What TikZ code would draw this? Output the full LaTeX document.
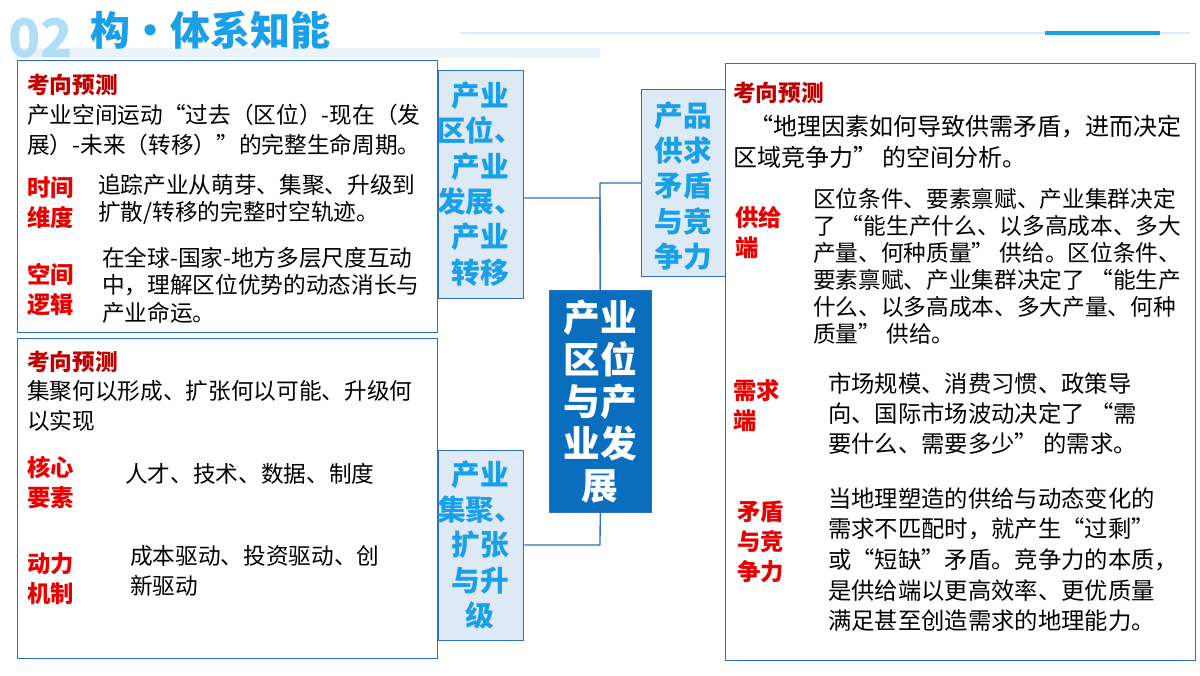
\documentclass[tikz,border=0pt]{standalone}
\usepackage{fontspec}
\setmainfont{Noto Sans CJK SC}
\begin{document}
\begin{tikzpicture}[x=0.75pt,y=-0.75pt,
  bx/.style={draw=bord,line width=1pt},
  lab/.style={bx,fill=labfill},
  labt/.style={align=center,text=labtext,font=\fontsize{21.5}{26.5}\selectfont\bfseries,inner sep=0},
  body/.style={align=left,anchor=north west,inner sep=0,font=\fontsize{17}{22.5}\selectfont},
  red/.style={align=left,anchor=north west,inner sep=0,text=redc,font=\fontsize{17.5}{22.5}\selectfont\bfseries},
  ktitle/.style={anchor=west,inner sep=0,text=darkred,font=\fontsize{17}{20}\selectfont\bfseries},
  con/.style={draw=bord,line width=1pt}]
\definecolor{bord}{HTML}{2E6FC0}
\definecolor{labfill}{HTML}{DDEAF6}
\definecolor{labtext}{HTML}{1AA0E8}
\definecolor{redc}{HTML}{E80000}
\definecolor{darkred}{HTML}{C00000}
\definecolor{cen}{HTML}{0A6EBF}
\useasboundingbox (0,0) rectangle (1200,675);
\fill[white] (0,0) rectangle (1200,675);
% header
\fill[labfill!60] (15,48) rectangle (600,58);
\node[anchor=west,inner sep=0,text=labtext!35,font=\fontsize{40}{44}\selectfont\bfseries] (n02) at (8,38) {02};
\node[anchor=west,inner sep=0,text=labtext,font=\fontsize{30}{32}\selectfont\bfseries] (ttl) at (90,30) {构·体系知能};
\draw[labfill,line width=1pt] (460,33) -- (1190,33);
\draw[labtext,line width=3pt] (1045,33) -- (1160,33);
% boxes
\node[bx,minimum width=420pt*0.75,minimum height=272pt*0.75,anchor=north west,inner sep=0] (lt) at (17,60) {};
\node[bx,minimum width=420pt*0.75,minimum height=320pt*0.75,anchor=north west,inner sep=0] (lb) at (17,338) {};
\node[bx,minimum width=470pt*0.75,minimum height=597pt*0.75,anchor=north west,inner sep=0] (rb) at (725,63) {};
\node[lab,minimum width=85pt*0.75,minimum height=228pt*0.75,anchor=north west,inner sep=0] (l1) at (438,70) {};
\node[lab,minimum width=85pt*0.75,minimum height=190pt*0.75,anchor=north west,inner sep=0] (l2) at (438,450) {};
\node[lab,minimum width=84pt*0.75,minimum height=187pt*0.75,anchor=north west,inner sep=0] (l3) at (641,89) {};
\node[draw=bord,fill=cen,minimum width=102pt*0.75,minimum height=222pt*0.75,anchor=north west,inner sep=0] (c) at (549,290) {};
% label texts
\node[labt] (l1t) at (480,184) {产业\\区位、\\产业\\发展、\\产业\\转移};
\node[labt] (l2t) at (480,545) {产业\\集聚、\\扩张\\与升\\级};
\node[labt] (l3t) at (683,186) {产品\\供求\\矛盾\\与竞\\争力};
\node[align=center,text=white,inner sep=0,font=\fontsize{27.5}{31.5}\selectfont\bfseries] (ct) at (600,402) {产业\\区位\\与产\\业发\\展};
% connectors
\coordinate (j1) at (600,198);
\coordinate (j3) at (600,183);
\coordinate (j2) at (600,545);
\draw[con] (l1.east |- j1) -- (j1) -- (c.north);
\draw[con] (l3.west |- j3) -- (j3) -- (c.north);
\draw[con] (c.south) -- (j2) -- (l2.east |- j2);
% left top
\node[ktitle] (k1) at (27,85) {考向预测};
\node[body] (t1) at (27,104) {产业空间运动“过去（区位）-现在（发\\展）-未来（转移）”的完整生命周期。};
\node[red] (r1) at (27,176) {时间\\维度};
\node[body,font=\fontsize{17}{20}\selectfont] (t2) at (98,174) {追踪产业从萌芽、集聚、升级到\\扩散/转移的完整时空轨迹。};
\node[red] (r2) at (27,263) {空间\\逻辑};
\node[body,font=\fontsize{17}{20.5}\selectfont] (t3) at (102,247) {在全球-国家-地方多层尺度互动\\中，理解区位优势的动态消长与\\产业命运。};
% left bottom
\node[ktitle] (k2) at (27,362) {考向预测};
\node[body] (t4) at (27,380) {集聚何以形成、扩张何以可能、升级何\\以实现};
\node[red] (r3) at (27,456) {核心\\要素};
\node[body] (t5) at (125,463) {人才、技术、数据、制度};
\node[red] (r4) at (27,552) {动力\\机制};
\node[body] (t6) at (130,545) {成本驱动、投资驱动、创\\新驱动};
% right
\node[ktitle] (k3) at (733,93) {考向预测};
\node[body,font=\fontsize{18}{23.5}\selectfont] (t7) at (733,115) {\hspace*{12pt}“地理因素如何导致供需矛盾，进而决定\\区域竞争力” 的空间分析。};
\node[red] (r5) at (735,206) {供给\\端};
\node[body,font=\fontsize{17}{20.2}\selectfont] (t8) at (813,188) {区位条件、要素禀赋、产业集群决定\\了 “能生产什么、以多高成本、多大\\产量、何种质量” 供给。区位条件、\\要素禀赋、产业集群决定了 “能生产\\什么、以多高成本、多大产量、何种\\质量” 供给。};
\node[red] (r6) at (733,379) {需求\\端};
\node[body,font=\fontsize{17.5}{22.5}\selectfont] (t9) at (828,372) {市场规模、消费习惯、政策导\\向、国际市场波动决定了 “需\\要什么、需要多少” 的需求。};
\node[red] (r7) at (737,501) {矛盾\\与竞\\争力};
\node[body,font=\fontsize{17.5}{23}\selectfont] (t10) at (828,487) {当地理塑造的供给与动态变化的\\需求不匹配时，就产生“过剩”\\或“短缺”矛盾。竞争力的本质，\\是供给端以更高效率、更优质量\\满足甚至创造需求的地理能力。};
\end{tikzpicture}
\end{document}
